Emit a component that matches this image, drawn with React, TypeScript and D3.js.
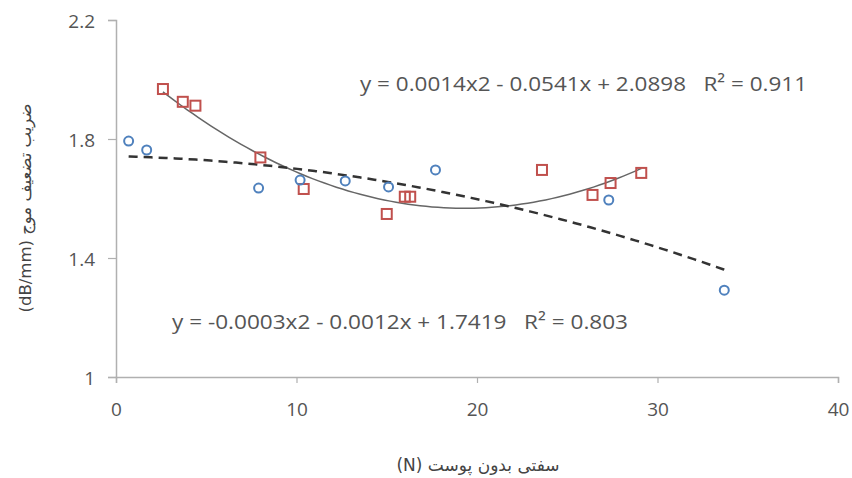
import * as d3 from "d3";
import { useEffect, useRef } from "react";

// red squares (with peel)
const redX = [2.6, 3.7, 4.4, 8.0, 10.4, 15.0, 16.0, 16.3, 23.6, 26.4, 27.4, 29.1];
const redY = [1.968, 1.925, 1.912, 1.738, 1.632, 1.548, 1.606, 1.606, 1.696, 1.612, 1.652, 1.686];

// blue circles
const blueX = [0.7, 1.7, 7.9, 10.2, 12.7, 15.1, 17.7, 27.3, 33.7];
const blueY = [1.793, 1.763, 1.635, 1.662, 1.659, 1.639, 1.696, 1.595, 1.292];

// trendline coefficients [a, b, c] for a*x^2 + b*x + c
const redFit = [0.0014, -0.0541, 2.0898];
const blueFit = [-0.0003, -0.0012, 1.7419];

const xTicks = [0, 10, 20, 30, 40];
const yTicks = [1, 1.4, 1.8, 2.2];

const redLabel = "y = 0.0014x2 - 0.0541x + 2.0898   R² = 0.911";
const blueLabel = "y = -0.0003x2 - 0.0012x + 1.7419   R² = 0.803";
const xTitle = "(N) سفتی بدون پوست";
const yTitle = "(dB/mm) ضریب تضعیف موج";

const W = 852;
const H = 478;

const App = () => {
  const ref = useRef<SVGSVGElement>(null);

  useEffect(() => {
    const svg = d3.select(ref.current);
    svg.selectAll("*").remove();

    const x = d3.scaleLinear().domain([0, 40]).range([116, 838]);
    const y = d3.scaleLinear().domain([1, 2.2]).range([377, 20]);
    const font = "'Open Sans', 'DejaVu Sans', sans-serif";
    const textColor = "#555";
    const axisColor = "#b0b0b0";

    // axes
    const xAxis = svg
      .append("g")
      .attr("transform", `translate(0,${y(1)})`)
      .call(d3.axisBottom(x).tickValues(xTicks).tickSize(6).tickPadding(20));
    const yAxis = svg
      .append("g")
      .attr("transform", `translate(${x(0)},0)`)
      .call(
        d3
          .axisLeft(y)
          .tickValues(yTicks)
          .tickSize(8)
          .tickPadding(13)
          .tickFormat((d) => String(d))
      );
    [xAxis, yAxis].forEach((g) => {
      g.select(".domain").attr("stroke", axisColor).attr("stroke-width", 1.5);
      g.selectAll(".tick line").attr("stroke", axisColor).attr("stroke-width", 1.2);
      g.selectAll(".tick text")
        .attr("fill", textColor)
        .style("font-family", font)
        .style("font-size", "19px");
    });
    yAxis.selectAll(".tick text").attr("dy", "0.4em");

    // trendlines
    const curve = (c: number[], x0: number, x1: number) =>
      d3.range(x0, x1 + 0.001, (x1 - x0) / 80).map((v) => [v, c[0] * v * v + c[1] * v + c[2]]);
    const line = d3
      .line<number[]>()
      .x((d) => x(d[0]))
      .y((d) => y(d[1]))
      .curve(d3.curveBasis);

    svg
      .append("path")
      .attr("d", line(curve(redFit, d3.min(redX)!, d3.max(redX)!)))
      .attr("fill", "none")
      .attr("stroke", "#666")
      .attr("stroke-width", 1.5);

    svg
      .append("path")
      .attr("d", line(curve(blueFit, d3.min(blueX)!, d3.max(blueX)!)))
      .attr("fill", "none")
      .attr("stroke", "#333")
      .attr("stroke-width", 2.5)
      .attr("stroke-dasharray", "9,6");

    // markers
    svg
      .selectAll("rect.red")
      .data(redX)
      .join("rect")
      .attr("class", "red")
      .attr("x", (d) => x(d) - 5)
      .attr("y", (_, i) => y(redY[i]) - 5)
      .attr("width", 10)
      .attr("height", 10)
      .attr("fill", "none")
      .attr("stroke", "#c0504d")
      .attr("stroke-width", 2);

    svg
      .selectAll("circle.blue")
      .data(blueX)
      .join("circle")
      .attr("class", "blue")
      .attr("cx", (d) => x(d))
      .attr("cy", (_, i) => y(blueY[i]))
      .attr("r", 4.5)
      .attr("fill", "none")
      .attr("stroke", "#4f81bd")
      .attr("stroke-width", 2);

    // equation labels
    svg
      .append("text")
      .attr("x", 360)
      .attr("y", 91)
      .attr("fill", textColor)
      .style("font-family", font)
      .style("font-size", "20px")
      .attr("textLength", 447)
      .attr("lengthAdjust", "spacingAndGlyphs")
      .attr("xml:space", "preserve")
      .text(redLabel);

    svg
      .append("text")
      .attr("x", 172)
      .attr("y", 329)
      .attr("fill", textColor)
      .style("font-family", font)
      .style("font-size", "20px")
      .attr("textLength", 456)
      .attr("lengthAdjust", "spacingAndGlyphs")
      .attr("xml:space", "preserve")
      .text(blueLabel);

    // axis titles
    svg
      .append("text")
      .attr("x", 478)
      .attr("y", 471)
      .attr("text-anchor", "middle")
      .attr("direction", "ltr")
      .attr("fill", "#444")
      .style("font-family", "'DejaVu Sans', sans-serif")
      .style("font-size", "17px")
      .text(xTitle);

    svg
      .append("text")
      .attr("transform", `translate(31,208) rotate(-90)`)
      .attr("text-anchor", "middle")
      .attr("direction", "ltr")
      .attr("fill", "#444")
      .style("font-family", "'DejaVu Sans', sans-serif")
      .style("font-size", "16.5px")
      .text(yTitle);
  }, []);

  return (
    <svg
      ref={ref}
      width={W}
      height={H}
      style={{ position: "absolute", left: 0, top: 0, background: "#fff" }}
    />
  );
};

export default App;
